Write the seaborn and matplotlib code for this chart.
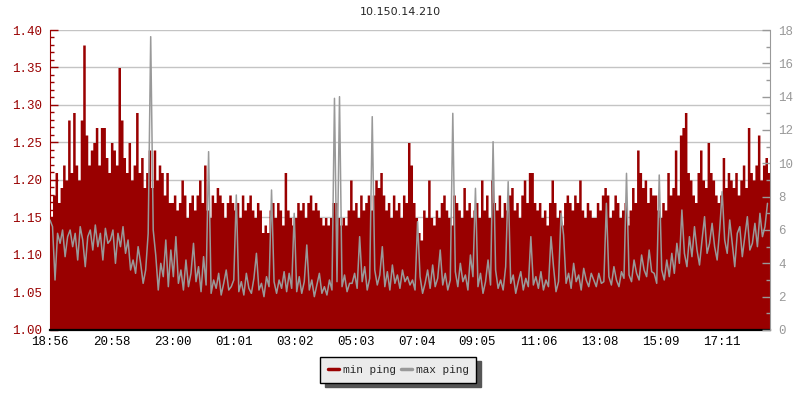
import matplotlib
matplotlib.use("Agg")
import matplotlib.pyplot as plt
from matplotlib.lines import Line2D
from matplotlib.ticker import MultipleLocator, FormatStrFormatter
import pandas as pd
import seaborn as sns

title = "10.150.14.210"
start = "2024-05-01 18:56"
step_minutes = 5
time_labels = ["18:56", "20:58", "23:00", "01:01", "03:02", "05:03",
               "07:04", "09:05", "11:06", "13:08", "15:09", "17:11"]

# min ping (left axis, 1.00 - 1.40), one value per 5 min
min_ping = [
    1.15, 1.18, 1.21, 1.17, 1.19, 1.22, 1.20, 1.28, 1.21, 1.29, 1.22, 1.20, 1.28, 1.38, 1.26, 1.22, 1.24, 1.25, 1.27, 1.22, 1.27, 1.27, 1.23, 1.21,
    1.25, 1.24, 1.22, 1.35, 1.28, 1.23, 1.21, 1.25, 1.20, 1.22, 1.29, 1.21, 1.23, 1.19, 1.21, 1.24, 1.19, 1.24, 1.20, 1.22, 1.21, 1.18, 1.21, 1.17,
    1.17, 1.18, 1.16, 1.17, 1.20, 1.18, 1.15, 1.17, 1.18, 1.16, 1.18, 1.20, 1.17, 1.22, 1.16, 1.15, 1.18, 1.17, 1.19, 1.18, 1.17, 1.15, 1.17, 1.18,
    1.17, 1.16, 1.17, 1.15, 1.18, 1.16, 1.17, 1.18, 1.16, 1.15, 1.17, 1.16, 1.13, 1.14, 1.13, 1.16, 1.17, 1.15, 1.17, 1.16, 1.14, 1.21, 1.16, 1.15,
    1.14, 1.15, 1.17, 1.16, 1.17, 1.15, 1.17, 1.18, 1.16, 1.17, 1.16, 1.15, 1.14, 1.15, 1.14, 1.15, 1.17, 1.17, 1.15, 1.14, 1.15, 1.14, 1.16, 1.20,
    1.16, 1.17, 1.15, 1.18, 1.16, 1.17, 1.18, 1.16, 1.18, 1.20, 1.19, 1.21, 1.18, 1.16, 1.17, 1.15, 1.18, 1.16, 1.17, 1.15, 1.18, 1.17, 1.25, 1.22,
    1.17, 1.15, 1.13, 1.12, 1.16, 1.15, 1.20, 1.15, 1.14, 1.16, 1.15, 1.17, 1.18, 1.16, 1.15, 1.14, 1.18, 1.17, 1.16, 1.15, 1.19, 1.16, 1.17, 1.15,
    1.16, 1.17, 1.15, 1.20, 1.16, 1.18, 1.15, 1.20, 1.17, 1.16, 1.18, 1.15, 1.17, 1.16, 1.18, 1.19, 1.16, 1.17, 1.15, 1.18, 1.20, 1.17, 1.21, 1.21,
    1.17, 1.16, 1.17, 1.15, 1.16, 1.14, 1.17, 1.20, 1.17, 1.15, 1.16, 1.14, 1.17, 1.18, 1.17, 1.16, 1.18, 1.17, 1.20, 1.16, 1.15, 1.17, 1.16, 1.15,
    1.15, 1.17, 1.16, 1.18, 1.19, 1.18, 1.15, 1.16, 1.18, 1.17, 1.15, 1.16, 1.17, 1.14, 1.16, 1.19, 1.17, 1.24, 1.21, 1.19, 1.20, 1.17, 1.19, 1.18,
    1.18, 1.16, 1.15, 1.17, 1.16, 1.21, 1.18, 1.19, 1.24, 1.18, 1.26, 1.27, 1.29, 1.21, 1.20, 1.18, 1.17, 1.21, 1.24, 1.20, 1.19, 1.25, 1.21, 1.20,
    1.18, 1.17, 1.18, 1.23, 1.19, 1.21, 1.20, 1.19, 1.21, 1.18, 1.20, 1.22, 1.19, 1.27, 1.21, 1.20, 1.22, 1.26, 1.20, 1.22, 1.23, 1.21,
]

# max ping (right axis, 0 - 18)
max_ping = [
    6.6, 6.2, 3.0, 5.8, 5.2, 6.0, 4.4, 5.6, 6.0, 5.0, 5.8, 4.2, 6.2, 5.4, 3.8, 5.6, 6.0, 4.8, 6.3, 5.0, 5.8, 4.2, 6.1, 5.2,
    5.4, 6.0, 4.0, 5.8, 5.0, 6.2, 4.6, 5.4, 3.6, 4.2, 3.4, 5.0, 4.0, 2.8, 3.6, 5.8, 17.6, 6.0, 4.5, 2.4, 4.0, 3.2, 5.4, 2.6,
    4.8, 3.2, 5.6, 2.8, 3.6, 2.4, 4.2, 2.6, 3.4, 5.2, 2.9, 3.8, 2.3, 4.4, 2.7, 10.7, 2.2, 3.0, 2.5, 3.4, 2.1, 2.8, 3.6, 2.4,
    2.6, 3.0, 8.1, 2.3, 2.9, 2.1, 3.4, 2.5, 2.2, 3.1, 4.6, 2.4, 2.8, 2.0, 3.2, 2.6, 8.4, 2.9, 2.2, 3.0, 2.5, 3.5, 2.3, 3.4,
    2.5, 7.0, 2.3, 3.2, 2.2, 2.9, 5.1, 2.4, 3.0, 2.0, 2.7, 3.4, 2.2, 2.6, 2.1, 3.0, 2.4, 13.9, 2.9, 14.0, 2.6, 3.3, 2.3, 2.8,
    2.8, 3.4, 2.5, 5.6, 2.9, 3.8, 2.4, 3.1, 12.8, 3.6, 2.7, 3.3, 5.0, 2.6, 3.5, 2.4, 3.9, 2.8, 3.3, 2.5, 3.6, 2.9, 3.2, 2.7,
    3.0, 2.4, 6.5, 3.2, 2.2, 2.8, 3.6, 2.5, 3.9, 2.6, 3.1, 4.8, 2.7, 3.4, 2.4, 3.0, 13.0, 3.5, 2.6, 4.0, 2.9, 3.3, 2.4, 4.5,
    3.2, 8.5, 2.6, 3.4, 2.2, 2.9, 4.2, 2.7, 11.3, 3.6, 2.5, 3.0, 2.4, 3.8, 8.9, 2.8, 3.3, 2.2, 2.9, 3.5, 2.4, 3.1, 2.6, 5.6,
    2.7, 3.2, 2.5, 3.5, 2.4, 3.0, 2.6, 5.6, 3.8, 2.3, 2.9, 7.0, 5.7, 2.8, 3.4, 2.5, 4.0, 2.9, 3.3, 2.4, 3.7, 3.0, 2.6, 3.4,
    3.0, 2.6, 3.4, 2.8, 2.9, 7.6, 3.2, 2.7, 3.8, 3.0, 2.6, 3.5, 3.1, 9.4, 3.3, 2.9, 4.2, 3.4, 3.0, 4.5, 3.6, 3.2, 4.8, 3.5,
    3.4, 2.8, 9.3, 3.6, 3.0, 4.2, 3.2, 4.6, 3.4, 5.2, 4.0, 7.2, 4.6, 3.8, 5.6, 4.4, 6.2, 4.8, 3.9, 5.4, 6.8, 4.6, 5.2, 6.4,
    5.0, 4.2, 6.0, 8.3, 5.4, 4.6, 6.6, 5.2, 3.8, 5.8, 6.2, 4.4, 5.6, 6.8, 4.8, 5.2, 6.4, 5.0, 7.0, 5.6, 6.2, 7.6,
]

assert len(min_ping) == len(max_ping)

RED = "#990000"
GRAY = "#999999"
GRID = "#c4c4c4"

sns.set_style("white")
plt.rcParams["font.family"] = ["Liberation Mono", "DejaVu Sans Mono"]

times = pd.date_range(start, periods=len(min_ping), freq=f"{step_minutes}min")
end = times[-1] + pd.Timedelta(minutes=step_minutes)
df = pd.DataFrame({"time": times, "min ping": min_ping, "max ping": max_ping})
# repeat the last row so the last red step has width
df_fill = pd.concat([df, df.iloc[[-1]].assign(time=end)], ignore_index=True)

fig = plt.figure(figsize=(8, 4), dpi=100)
ax = fig.add_axes([0.0625, 0.175, 0.9, 0.75])
ax2 = ax.twinx()

ax.set_axisbelow(True)
ax.grid(axis="y", which="major", color=GRID, linewidth=1)
ax.grid(axis="x", visible=False)
ax.fill_between(df_fill["time"], 1.0, df_fill["min ping"], step="post",
                color=RED, linewidth=0, zorder=2, antialiased=False)
sns.lineplot(data=df, x="time", y="max ping", ax=ax2, color=GRAY,
             linewidth=1.1)

# x axis
tick_times = []
for lab in time_labels:
    t = pd.Timestamp(f"{times[0].date()} {lab}")
    if t < times[0]:
        t += pd.Timedelta(days=1)
    tick_times.append(t)
ax.set_xticks(tick_times)
ax.set_xticklabels(time_labels)
ax.set_xlim(times[0], end)
ax.tick_params(axis="x", direction="in", length=5, width=1, colors="black",
               labelsize=9, pad=4)

# left axis
ax.set_ylim(1.0, 1.4)
ax.yaxis.set_major_locator(MultipleLocator(0.05))
ax.yaxis.set_minor_locator(MultipleLocator(0.01))
ax.yaxis.set_major_formatter(FormatStrFormatter("%.2f"))
ax.tick_params(axis="y", which="both", direction="in", colors=RED,
               labelsize=9, pad=6, left=True)
ax.tick_params(axis="y", which="major", length=6, width=1)
ax.tick_params(axis="y", which="minor", length=3, width=1)

# right axis
ax2.set_ylim(0, 18)
ax2.yaxis.set_major_locator(MultipleLocator(2))
ax2.yaxis.set_minor_locator(MultipleLocator(1))
ax2.tick_params(axis="y", which="both", direction="in", colors=GRAY,
                labelsize=9, pad=6, right=True)
ax2.tick_params(axis="y", which="major", length=6, width=1)
ax2.tick_params(axis="y", which="minor", length=3, width=1)

for a in (ax, ax2):
    a.set_xlabel("")
    a.set_ylabel("")
    a.spines["top"].set_visible(False)
ax.spines["right"].set_visible(False)
ax.spines["left"].set_color(RED)
ax.spines["bottom"].set_color("black")
ax.spines["bottom"].set_linewidth(1.6)
ax.spines["bottom"].set_zorder(5)
ax2.spines["left"].set_visible(False)
ax2.spines["bottom"].set_visible(False)
ax2.spines["right"].set_color(GRAY)

fig.text(0.5, 0.97, title, ha="center", va="center", fontsize=8,
         family="DejaVu Sans")

handles = [Line2D([0], [0], color=RED, linewidth=2.5),
           Line2D([0], [0], color=GRAY, linewidth=2.5)]
leg = fig.legend(handles, ["min ping", "max ping"], loc="center",
                 bbox_to_anchor=(0.498, 0.075), ncol=2, frameon=True,
                 fancybox=False, shadow={"ox": 3, "oy": -3, "color": "#555555", "alpha": 1},
                 edgecolor="black", facecolor="#ebebeb", framealpha=1,
                 handlelength=1.0, handletextpad=0.3, columnspacing=0.5,
                 borderpad=0.7, fontsize=8)
leg.get_frame().set_linewidth(1)

fig.savefig("out.png", dpi=100)
